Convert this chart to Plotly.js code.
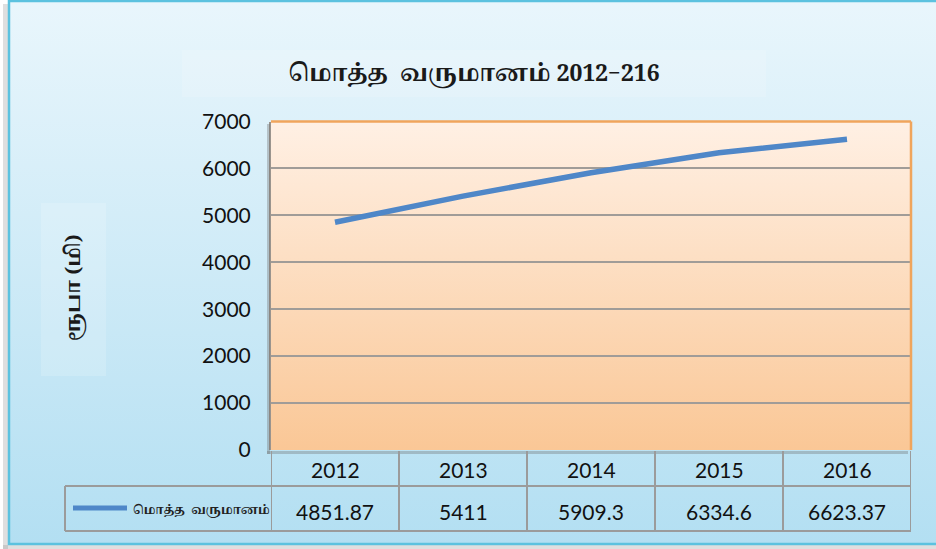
<!DOCTYPE html>
<html>
<head>
<meta charset="utf-8">
<script src="https://cdn.plot.ly/plotly-3.0.1.min.js"></script>
<style>
html,body{margin:0;padding:0;background:#ffffff;}
#chart{width:936px;height:549px;}
</style>
</head>
<body>
<div id="chart"></div>
<script>
// ---- data ----
const years = ['2012', '2013', '2014', '2015', '2016'];
const revenue = [4851.87, 5411, 5909.3, 6334.6, 6623.37];
const valueLabels = ['4851.87', '5411', '5909.3', '6334.6', '6623.37'];
const seriesName = 'மொத்த  வருமானம்';
const chartTitle = 'மொத்த  வருமானம் 2012−216';
const yTitle = 'ரூபா (மி)';
const yTicks = [0, 1000, 2000, 3000, 4000, 5000, 6000, 7000];

// ---- helpers (pixel -> paper) ----
const W = 936, H = 549;
const px = x => x / W;
const py = y => 1 - y / H;

const tamilFont = '"Noto Serif Tamil", "Noto Sans Tamil", "Lohit Tamil", "Latha", serif';
const numFont = 'Lato, Carlito, "Open Sans", sans-serif';

const bgSvg = 'data:image/svg+xml;utf8,' + encodeURIComponent(
  '<svg xmlns="http://www.w3.org/2000/svg" width="100" height="100" preserveAspectRatio="none"><defs><linearGradient id="g" x1="0" y1="0" x2="0" y2="1"><stop offset="0" stop-color="#e9f6fc"/><stop offset="1" stop-color="#b3dff2"/></linearGradient></defs><rect width="100" height="100" fill="url(#g)"/></svg>');
const plotSvg = 'data:image/svg+xml;utf8,' + encodeURIComponent(
  '<svg xmlns="http://www.w3.org/2000/svg" width="100" height="100" preserveAspectRatio="none"><defs><linearGradient id="g" x1="0" y1="0" x2="0" y2="1"><stop offset="0" stop-color="#fff0e4"/><stop offset="1" stop-color="#fac796"/></linearGradient></defs><rect width="100" height="100" fill="url(#g)"/></svg>');

const trace = {
  type: 'scatter',
  mode: 'lines',
  x: years,
  y: revenue,
  line: {color: '#4f87c8', width: 5.5},
  hoverinfo: 'x+y',
  showlegend: false
};

const tableLine = {color: '#9b9b9b', width: 2};
const shadow = 'rgba(110,110,110,0.35)';
const shapes = [];

// page frame shadow strips (left and bottom)
shapes.push({type: 'rect', xref: 'paper', yref: 'paper', x0: px(3), x1: px(8), y0: py(549), y1: py(4),
  fillcolor: 'rgba(150,150,150,0.3)', line: {width: 0}, layer: 'above'});
shapes.push({type: 'rect', xref: 'paper', yref: 'paper', x0: px(3), x1: px(936), y0: py(549), y1: py(545),
  fillcolor: 'rgba(150,150,150,0.3)', line: {width: 0}, layer: 'above'});
// page frame border
shapes.push({type: 'rect', xref: 'paper', yref: 'paper', x0: px(9), x1: px(940), y0: py(544), y1: py(1),
  fillcolor: 'rgba(0,0,0,0)', line: {color: '#5cc2df', width: 2.5}, layer: 'above'});

// title box and y-title box
shapes.push({type: 'rect', xref: 'paper', yref: 'paper', x0: px(182), x1: px(766), y0: py(97), y1: py(50),
  fillcolor: 'rgba(255,255,255,0.14)', line: {width: 0}, layer: 'above'});
shapes.push({type: 'rect', xref: 'paper', yref: 'paper', x0: px(41), x1: px(106), y0: py(376), y1: py(203),
  fillcolor: 'rgba(255,255,255,0.16)', line: {width: 0}, layer: 'above'});

// plot area shadow strips (left and bottom)
shapes.push({type: 'rect', xref: 'paper', yref: 'paper', x0: px(267), x1: px(270), y0: py(454), y1: py(124),
  fillcolor: shadow, line: {width: 0}, layer: 'above'});
shapes.push({type: 'rect', xref: 'paper', yref: 'paper', x0: px(267), x1: px(908), y0: py(454), y1: py(451),
  fillcolor: shadow, line: {width: 0}, layer: 'above'});

// orange border top & right
shapes.push({type: 'line', xref: 'x domain', yref: 'y domain', x0: 0, x1: 1, y0: 1, y1: 1,
  line: {color: '#f0a55c', width: 2.5}, layer: 'above'});
shapes.push({type: 'line', xref: 'x domain', yref: 'y domain', x0: 1, x1: 1, y0: 0, y1: 1,
  line: {color: '#f0a55c', width: 2.5}, layer: 'above'});

// data table grid (columns follow category axis)
const rowTop = py(451), rowMid = py(486), rowBot = py(531);
for (let i = 0; i <= years.length; i++) {
  shapes.push({type: 'line', xref: 'x', yref: 'paper', x0: i - 0.5, x1: i - 0.5, y0: rowBot, y1: rowTop, line: tableLine});
}
shapes.push({type: 'line', xref: 'paper', yref: 'paper', x0: px(65), x1: px(911), y0: rowMid, y1: rowMid, line: tableLine});
shapes.push({type: 'line', xref: 'paper', yref: 'paper', x0: px(65), x1: px(911), y0: rowBot, y1: rowBot, line: tableLine});
shapes.push({type: 'line', xref: 'paper', yref: 'paper', x0: px(65), x1: px(65), y0: rowBot, y1: rowMid, line: tableLine});
// legend key line
shapes.push({type: 'line', xref: 'paper', yref: 'paper', x0: px(73), x1: px(127), y0: py(508), y1: py(508),
  line: {color: '#4f87c8', width: 5}});

const annotations = [];
years.forEach((yr, i) => {
  annotations.push({xref: 'x', yref: 'paper', x: i, y: py(469), text: yr, showarrow: false,
    font: {family: numFont, size: 21, color: '#111111'}, xanchor: 'center', yanchor: 'middle'});
  annotations.push({xref: 'x', yref: 'paper', x: i, y: py(511), text: valueLabels[i], showarrow: false,
    font: {family: numFont, size: 21, color: '#111111'}, xanchor: 'center', yanchor: 'middle'});
});
annotations.push({xref: 'paper', yref: 'paper', x: px(201), y: py(510), text: '<b>' + seriesName + '</b>', showarrow: false,
  font: {family: tamilFont, size: 12, color: '#222222'}, xanchor: 'center', yanchor: 'middle'});
annotations.push({xref: 'paper', yref: 'paper', x: px(74), y: py(288), text: '<b>' + yTitle + '</b>', showarrow: false,
  textangle: -90, font: {family: tamilFont, size: 20, color: '#1a1a1a'}, xanchor: 'center', yanchor: 'middle'});

const layout = {
  width: W, height: H,
  margin: {l: 0, r: 0, t: 0, b: 0},
  paper_bgcolor: 'rgba(0,0,0,0)',
  plot_bgcolor: 'rgba(0,0,0,0)',
  title: {text: '<b>' + chartTitle + '</b>', x: px(474), xanchor: 'center', y: py(73), yanchor: 'middle',
    font: {family: tamilFont, size: 23, color: '#1a1a1a'}},
  xaxis: {
    type: 'category',
    domain: [px(271), px(911)],
    range: [-0.5, years.length - 0.5],
    showticklabels: false, showgrid: false, zeroline: false, showline: false, ticks: ''
  },
  yaxis: {
    domain: [py(450), py(121.5)],
    range: [0, 7000],
    tickvals: yTicks,
    ticktext: yTicks.map(String),
    tickfont: {family: numFont, size: 21, color: '#111111'},
    ticks: '', ticklabelstandoff: 14,
    showgrid: true, gridcolor: '#a09c98', gridwidth: 2,
    zeroline: false,
    showline: true, linecolor: '#9a948e', linewidth: 2
  },
  images: [
    {source: bgSvg, xref: 'paper', yref: 'paper', x: px(9), y: py(1), sizex: px(936) - px(9), sizey: py(1) - py(544),
      xanchor: 'left', yanchor: 'top', sizing: 'stretch', layer: 'below'},
    {source: plotSvg, xref: 'paper', yref: 'paper', x: px(271), y: py(121.5), sizex: px(911) - px(271), sizey: py(121.5) - py(450),
      xanchor: 'left', yanchor: 'top', sizing: 'stretch', layer: 'below'}
  ],
  shapes: shapes,
  annotations: annotations
};

Plotly.newPlot('chart', [trace], layout, {displayModeBar: false, staticPlot: true});
</script>
</body>
</html>
